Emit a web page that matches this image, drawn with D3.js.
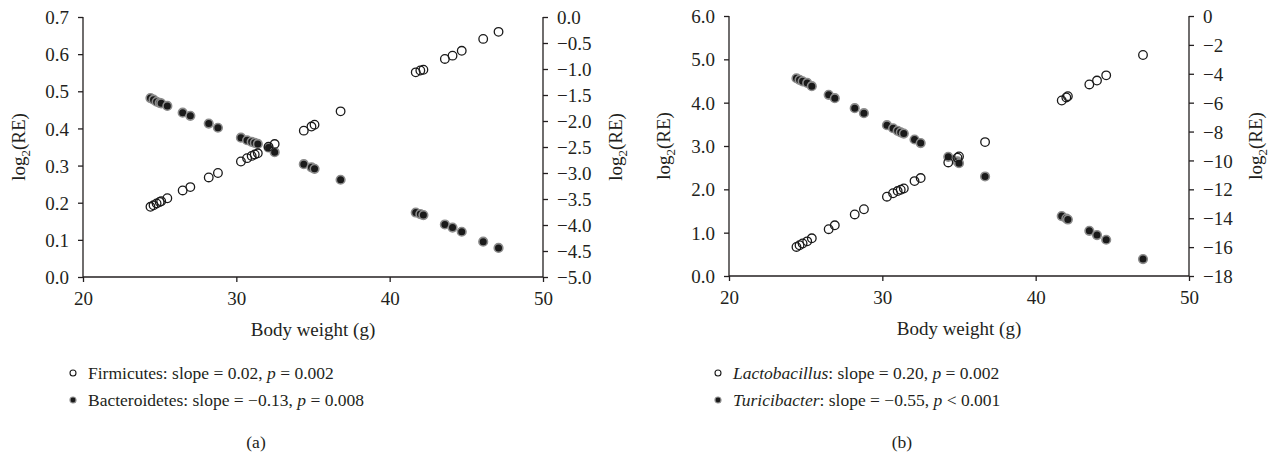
<!DOCTYPE html>
<html>
<head>
<meta charset="utf-8">
<script src="https://cdn.jsdelivr.net/npm/d3@7"></script>
<style>
  html, body { margin: 0; padding: 0; background: #fff; }
  svg text { font-family: "Liberation Serif", "DejaVu Serif", serif; fill: #231f20; }
  .axis path, .axis line { stroke: #231f20; stroke-width: 1.3; }
</style>
</head>
<body>
<svg id="chart" width="1270" height="455"></svg>
<script>
// panel (a): body weight (g) and fitted log2(RE)
const weightA = [24.4, 24.6, 24.8, 25.0, 25.1, 25.5, 26.5, 27.0, 28.2, 28.8, 30.3, 30.7, 31.0, 31.2, 31.4,
    32.1, 32.5, 34.4, 34.9, 35.1, 36.8, 41.7, 42.0, 42.2, 43.6, 44.1, 44.7, 46.1, 47.1];
const firmicutes = [0.189, 0.193, 0.198, 0.202, 0.204, 0.212, 0.233, 0.242, 0.268, 0.280, 0.311, 0.320, 0.326,
    0.330, 0.333, 0.351, 0.358, 0.394, 0.405, 0.410, 0.446, 0.551, 0.556, 0.558, 0.587, 0.596, 0.609, 0.641, 0.660];
const bacteroidetes = [-1.56, -1.59, -1.63, -1.65, -1.66, -1.71, -1.84, -1.90, -2.05, -2.13, -2.32, -2.37, -2.40,
    -2.42, -2.44, -2.51, -2.60, -2.83, -2.89, -2.92, -3.13, -3.76, -3.79, -3.81, -3.99, -4.05, -4.13, -4.32, -4.44];

// panel (b)
const weightB = [24.4, 24.6, 24.8, 25.1, 25.4, 26.5, 26.9, 28.2, 28.8, 30.3, 30.7, 31.0, 31.2, 31.4, 32.1, 32.5,
    34.3, 34.9, 35.0, 36.7, 41.7, 42.0, 42.1, 43.5, 44.0, 44.6, 47.0];
const lactobacillus = [0.67, 0.71, 0.75, 0.80, 0.87, 1.08, 1.17, 1.42, 1.54, 1.83, 1.91, 1.96, 1.99, 2.02, 2.19,
    2.26, 2.62, 2.73, 2.76, 3.09, 4.05, 4.12, 4.15, 4.42, 4.51, 4.63, 5.10];
const turicibacter = [-4.31, -4.42, -4.52, -4.63, -4.86, -5.46, -5.69, -6.38, -6.73, -7.56, -7.77, -7.95, -8.05,
    -8.14, -8.55, -8.80, -9.75, -10.07, -10.19, -11.11, -13.85, -14.02, -14.09, -14.87, -15.17, -15.49, -16.83];

const xTicks = [20, 30, 40, 50];
const leftTicksA = [0, 0.1, 0.2, 0.3, 0.4, 0.5, 0.6, 0.7];
const rightTicksA = [0, -0.5, -1, -1.5, -2, -2.5, -3, -3.5, -4, -4.5, -5];
const leftTicksB = [0, 1, 2, 3, 4, 5, 6];
const rightTicksB = [0, -2, -4, -6, -8, -10, -12, -14, -16, -18];

const svg = d3.select("#chart");
const minus = s => s.replace("-", "\u2212");

function drawPanel(p) {
    const g = svg.append("g").attr("transform", `translate(${p.left},${p.top})`);
    const w = 460, h = 260;

    const x = d3.scaleLinear().domain([20, 50]).range([0, w]);
    const yL = d3.scaleLinear().domain(p.leftDomain).range([h, 0]);
    const yR = d3.scaleLinear().domain(p.rightDomain).range([h, 0]);

    g.append("g").attr("class", "axis")
        .attr("transform", `translate(0,${h})`)
        .call(d3.axisBottom(x).tickValues(xTicks).tickSize(5).tickPadding(10).tickFormat(d3.format("d")))
        .call(a => a.select(".domain").attr("d", `M0,0H${w}`))
        .selectAll("text").style("font-size", "19px");

    g.append("g").attr("class", "axis")
        .call(d3.axisLeft(yL).tickValues(p.leftTicks).tickSize(5).tickPadding(9).tickFormat(d3.format(".1f")))
        .call(a => a.select(".domain").attr("d", `M0,0V${h}`))
        .selectAll("text").style("font-size", "19px").attr("dy", "0.35em");

    g.append("g").attr("class", "axis")
        .attr("transform", `translate(${w},0)`)
        .call(d3.axisRight(yR).tickValues(p.rightTicks).tickSize(5).tickPadding(9)
            .tickFormat(d => minus(d3.format(p.rightFormat)(d))))
        .call(a => a.select(".domain").attr("d", `M0,0V${h}`))
        .selectAll("text").style("font-size", "19px").attr("dy", "0.35em");

    // filled series on the right axis
    g.selectAll(".filled").data(p.weights)
        .join("circle")
        .attr("cx", d => x(d))
        .attr("cy", (d, i) => yR(p.filled[i]))
        .attr("r", 4.3)
        .attr("fill", "#1a1a1a")
        .attr("stroke", "#8c8c8c")
        .attr("stroke-width", 1.6);

    // open series on the left axis
    g.selectAll(".open").data(p.weights)
        .join("circle")
        .attr("cx", d => x(d))
        .attr("cy", (d, i) => yL(p.open[i]))
        .attr("r", 4.3)
        .attr("fill", "none")
        .attr("stroke", "#1a1a1a")
        .attr("stroke-width", 1.3);

    g.append("text")
        .attr("x", w / 2).attr("y", h + 59)
        .attr("text-anchor", "middle")
        .style("font-size", "19px")
        .text("Body weight (g)");

    const yTitle = (tx) => {
        const t = g.append("text")
            .attr("transform", `translate(${tx},${h / 2}) rotate(-90)`)
            .attr("text-anchor", "middle")
            .attr("dy", "0.35em")
            .style("font-size", "19px");
        t.append("tspan").text("log");
        t.append("tspan").attr("dy", "5").style("font-size", "13px").text("2");
        t.append("tspan").attr("dy", "-5").text("(RE)");
    };
    yTitle(p.leftTitleX);
    yTitle(w + p.rightTitleX);

    // legend
    const lg = svg.append("g").attr("transform", `translate(${p.legendX},0)`);
    p.legend.forEach((item, i) => {
        const ly = p.legendY + i * 27;
        lg.append("circle")
            .attr("cx", 0).attr("cy", ly)
            .attr("r", 3)
            .attr("fill", item.filled ? "#1a1a1a" : "none")
            .attr("stroke", item.filled ? "#8c8c8c" : "#1a1a1a")
            .attr("stroke-width", item.filled ? 1.2 : 1.1);
        const t = lg.append("text")
            .attr("x", 15).attr("y", ly)
            .attr("dy", "0.33em")
            .style("font-size", "17.5px");
        item.parts.forEach(([txt, italic]) => {
            t.append("tspan").style("font-style", italic ? "italic" : "normal").text(txt);
        });
    });

    svg.append("text")
        .attr("x", p.tagX).attr("y", p.tagY)
        .attr("text-anchor", "middle")
        .attr("dy", "0.35em")
        .style("font-size", "17.5px")
        .text(p.tag);
}

drawPanel({
    left: 83, top: 17,
    weights: weightA, open: firmicutes, filled: bacteroidetes,
    leftDomain: [0, 0.7], rightDomain: [-5, 0],
    leftTicks: leftTicksA, rightTicks: rightTicksA, rightFormat: ".1f",
    leftTitleX: -65, rightTitleX: 72,
    legendX: 73, legendY: 373,
    legend: [
        { filled: false, parts: [["Firmicutes: slope = 0.02, ", false], ["p", true], [" = 0.002", false]] },
        { filled: true, parts: [["Bacteroidetes: slope = \u22120.13, ", false], ["p", true], [" = 0.008", false]] }
    ],
    tag: "(a)", tagX: 256, tagY: 442
});

drawPanel({
    left: 729, top: 16,
    weights: weightB, open: lactobacillus, filled: turicibacter,
    leftDomain: [0, 6], rightDomain: [-18, 0],
    leftTicks: leftTicksB, rightTicks: rightTicksB, rightFormat: "d",
    leftTitleX: -66, rightTitleX: 66,
    legendX: 718, legendY: 373,
    legend: [
        { filled: false, parts: [["Lactobacillus", true], [": slope = 0.20, ", false], ["p", true], [" = 0.002", false]] },
        { filled: true, parts: [["Turicibacter", true], [": slope = \u22120.55, ", false], ["p", true], [" < 0.001", false]] }
    ],
    tag: "(b)", tagX: 902, tagY: 442
});
</script>
</body>
</html>
